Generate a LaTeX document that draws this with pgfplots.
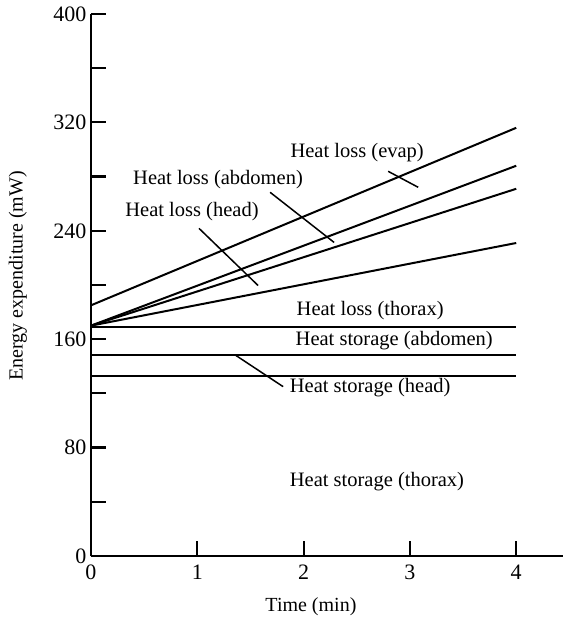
\documentclass[border=0pt]{standalone}
\usepackage{pgfplots}
\pgfplotsset{compat=1.18}
\usepackage{fontspec}
\setmainfont{Liberation Serif}
\tikzset{dl/.style={black, line width=2pt, mark=none}, ll/.style={black, line width=1.5pt, mark=none}}
\begin{document}
\begin{tikzpicture}
\useasboundingbox (-91pt,-65pt) rectangle (472pt,556pt);
\begin{axis}[
  scale only axis, width=472pt, height=542pt,
  xmin=0, xmax=4.44, ymin=0, ymax=400,
  axis x line*=bottom, axis y line*=left,
  axis line style={line width=2.4pt},
  xtick={0,1,2,3,4}, xticklabels={0,1,2,3,4},
  ytick={0,40,...,400}, yticklabels={0,,80,,160,,240,,320,,400},
  tick align=inside, major tick length=15pt,
  tick style={line width=2.2pt, black},
  /pgf/number format/assume math mode=true,
  ticklabel style={font=\fontsize{22}{24}\selectfont},
  xticklabel style={yshift=-5pt},
  yticklabel style={xshift=-1pt},
  xlabel={Time (min)}, ylabel={Energy expenditure (mW)},
  every axis x label/.style={at={(axis description cs:0.466,-0.094)}, anchor=center, font=\fontsize{20}{22}\selectfont},
  every axis y label/.style={at={(axis description cs:-0.155,0.517)}, anchor=center, rotate=90, font=\fontsize{20}{22}\selectfont},
  clip=false,
]
% heat loss (evap)
\addplot[dl] coordinates {(0,185) (4,316)};
% heat loss (abdomen)
\addplot[dl] coordinates {(0,170) (4,288)};
% heat loss (head)
\addplot[dl] coordinates {(0,170) (4,271)};
% heat loss (thorax) rising
\addplot[dl] coordinates {(0,170) (4,231)};
% horizontal lines
\addplot[dl] coordinates {(0,169) (4,169)};
\addplot[dl] coordinates {(0,148.4) (4,148.4)};
\addplot[dl] coordinates {(0,133) (4,133)};
% leaders
\addplot[ll] coordinates {(2.795,283.9) (3.078,272.1)};
\addplot[ll] coordinates {(1.685,268.4) (2.287,231.4)};
\addplot[ll] coordinates {(1.016,241.8) (1.572,199.6)};
\addplot[ll] coordinates {(1.365,147.9) (1.807,125)};
% labels
\begin{scope}[every node/.style={font=\fontsize{20.5}{22}\selectfont, inner sep=0pt}]
\node at (axis cs:2.504,298) {Heat loss (evap)};
\node at (axis cs:1.195,278) {Heat loss (abdomen)};
\node at (axis cs:0.95,254) {Heat loss (head)};
\node at (axis cs:2.626,181) {Heat loss (thorax)};
\node at (axis cs:2.852,159) {Heat storage (abdomen)};
\node at (axis cs:2.626,124) {Heat storage (head)};
\node at (axis cs:2.69,54.7) {Heat storage (thorax)};
\end{scope}
\end{axis}
\end{tikzpicture}
\end{document}
